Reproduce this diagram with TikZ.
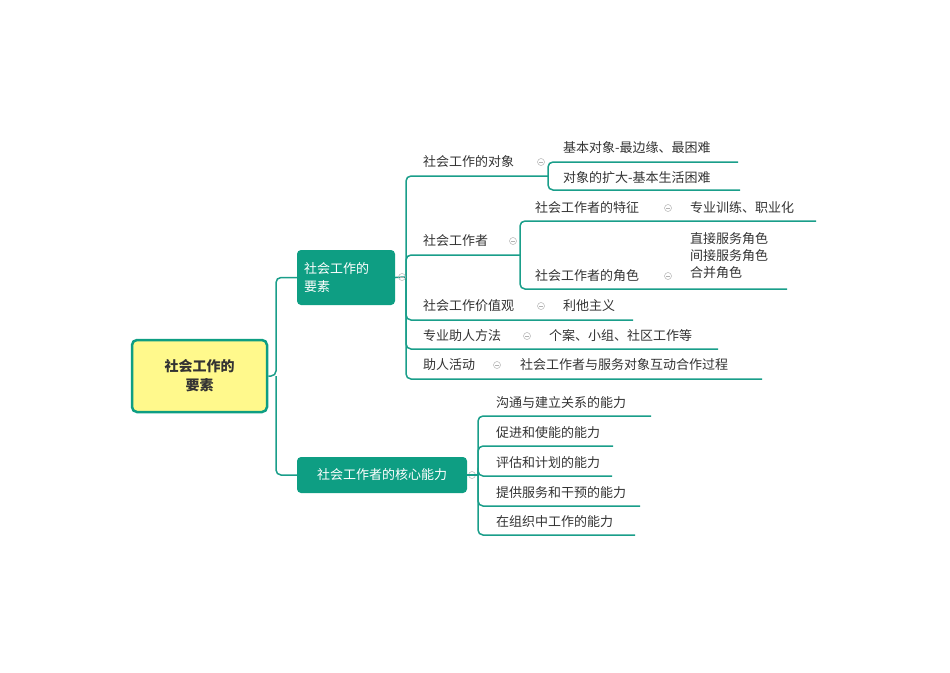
\documentclass[tikz,border=0pt]{standalone}
\usepackage{fontspec}
\setmainfont{Noto Sans CJK SC}
\begin{document}
\begin{tikzpicture}[x=1pt,y=-1pt,
  ln/.style={draw=lnc,line width=1.5pt,rounded corners=5pt},
  txt/.style={anchor=west,inner sep=0pt,font=\fontsize{13}{17}\selectfont,text=txtc},
  mk/.style={circle,draw=gray!60,inner sep=0pt,minimum size=7pt,line width=0.5pt,
    path picture={\draw[gray!60,line width=0.5pt] ([xshift=-2pt]path picture bounding box.center)--([xshift=2pt]path picture bounding box.center);}}]
\definecolor{lnc}{HTML}{1A9E8A}
\definecolor{txtc}{HTML}{333333}
\definecolor{boxc}{HTML}{0E9E83}
\useasboundingbox (0,0) rectangle (950,672);
% root
\node[draw=boxc,line width=2.5pt,fill=yellow!45,rounded corners=5pt,minimum width=135pt,minimum height=72pt,align=center,font=\fontsize{14}{19}\selectfont\bfseries,text=txtc] (root) at (199.5,376) {社会工作的\\要素};
\node[fill=boxc,rounded corners=4pt,minimum width=98pt,minimum height=55pt,align=left,text=white,font=\fontsize{13}{18}\selectfont,text width=84pt] (m1) at (346,277.5) {社会工作的\\要素};
\node[fill=boxc,rounded corners=4pt,minimum width=170pt,minimum height=36pt,text=white,font=\fontsize{13}{17}\selectfont] (m2) at (382,475) {社会工作者的核心能力};
\coordinate (t1) at (276,376);
\draw[ln] (root.east) -- (t1) |- (m1.west);
\draw[ln] (t1) |- (m2.west);
% branch 1
\coordinate (b1) at (406,277);
\draw[ln] (m1.east) -- (b1);
\draw[ln] (b1) |- (548,176) coordinate (g1);
\draw[ln] (b1) |- (520,255) coordinate (g2);
\draw[ln] (b1) |- (633,320);
\draw[ln] (b1) |- (718,349);
\draw[ln] (b1) |- (762,379);
\draw[ln] (g1) |- (738,162);
\draw[ln] (g1) |- (740,190);
\draw[ln] (g2) |- (816,221);
\draw[ln] (g2) |- (787,289);
\node[txt] (a1) at (423,162) {社会工作的对象};
\node[txt] (a11) at (563,148) {基本对象-最边缘、最困难};
\node[txt] (a12) at (563,178) {对象的扩大-基本生活困难};
\node[txt] (a2) at (423,241) {社会工作者};
\node[txt] (a21) at (535,208) {社会工作者的特征};
\node[txt] (a211) at (690,208) {专业训练、职业化};
\node[txt] (a22) at (535,276) {社会工作者的角色};
\node[txt,align=left] (a221) at (690,256) {直接服务角色\\间接服务角色\\合并角色};
\node[txt] (a3) at (423,306) {社会工作价值观};
\node[txt] (a31) at (563,306) {利他主义};
\node[txt] (a4) at (423,336) {专业助人方法};
\node[txt] (a41) at (549,336) {个案、小组、社区工作等};
\node[txt] (a5) at (423,365) {助人活动};
\node[txt] (a51) at (520,365) {社会工作者与服务对象互动合作过程};
\foreach \p in {(402,277),(541,162),(513,241),(668,208),(668,276),(541,306),(527,336),(497,365),(472,475)}
  \node[mk] at \p {};
% branch 2
\coordinate (b2) at (478,475);
\draw[ln] (m2.east) -- (b2);
\foreach \y/\e/\t in {416/651/沟通与建立关系的能力,446/613/促进和使能的能力,476/612/评估和计划的能力,506/640/提供服务和干预的能力,535/635/在组织中工作的能力}{
  \draw[ln] (b2) |- (\e,\y);
  \node[txt] at (496,\y-13.5) {\t};
}
\end{tikzpicture}
\end{document}
